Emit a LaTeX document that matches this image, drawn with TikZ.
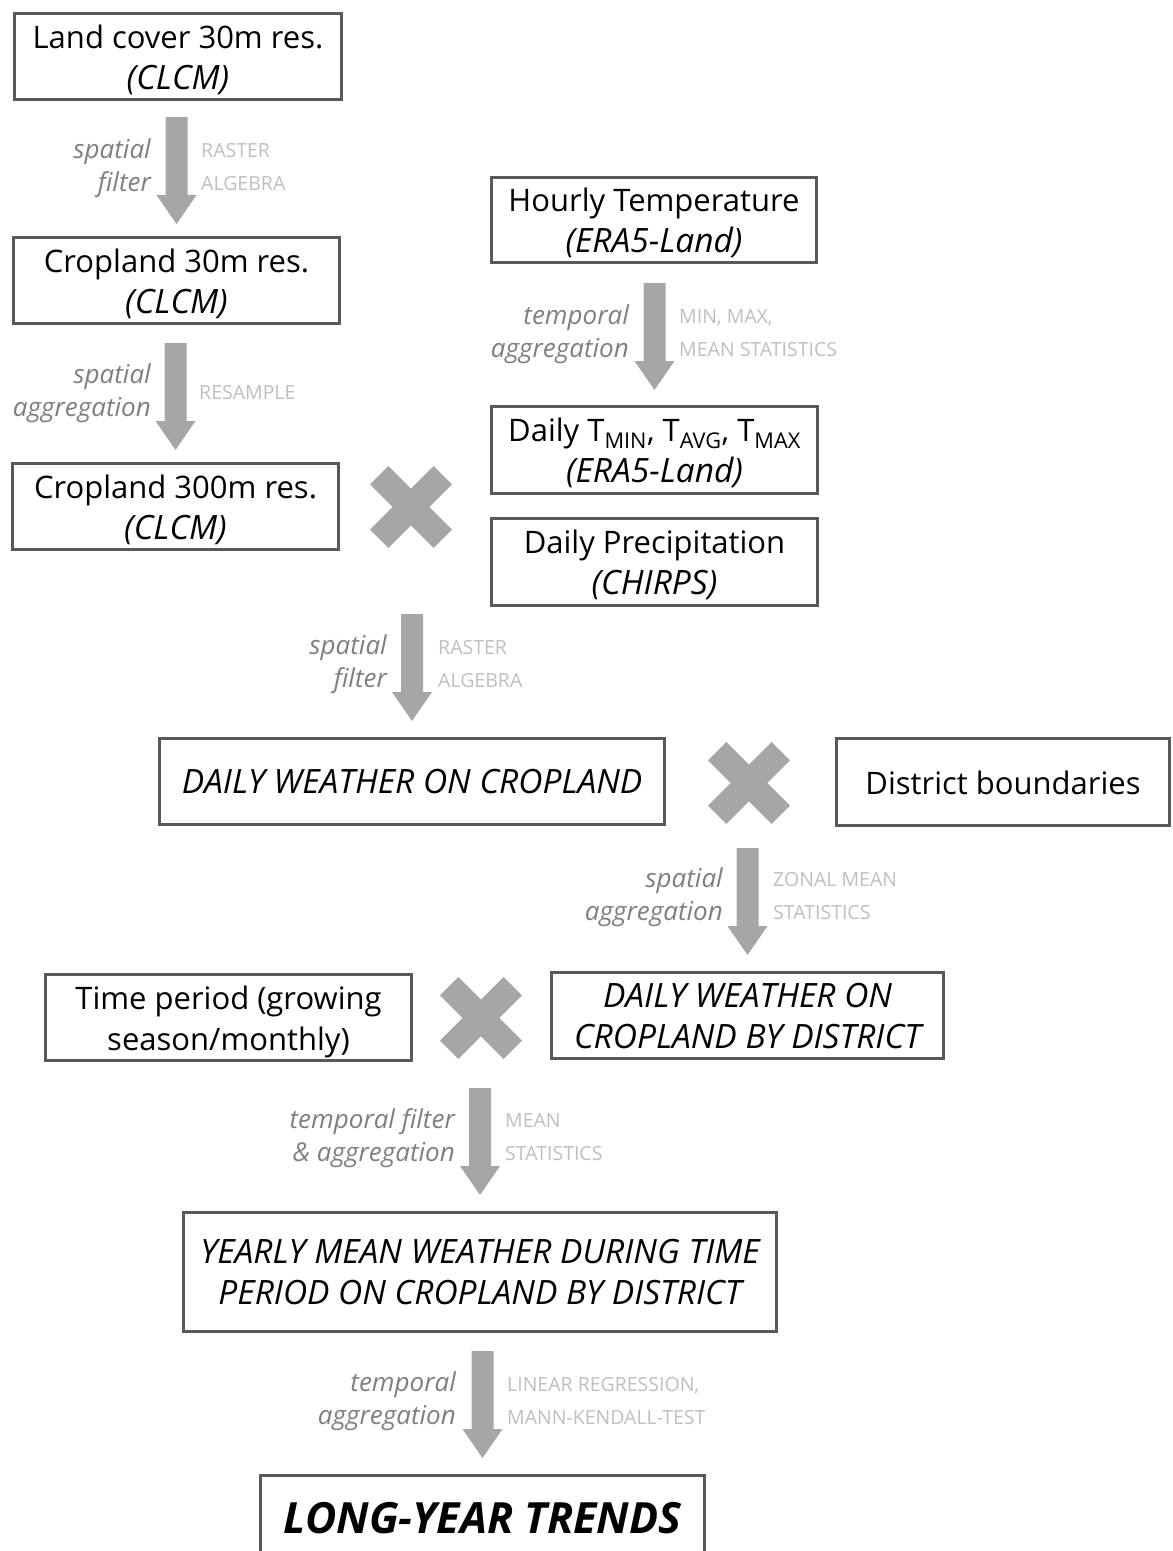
\documentclass[tikz,border=0pt]{standalone}
\usepackage{fontspec}
\setmainfont{Open Sans}
\usetikzlibrary{calc}
\definecolor{boxline}{HTML}{595959}
\definecolor{flowgray}{HTML}{A6A6A6}
\definecolor{labgray}{HTML}{7F7F7F}
\definecolor{capgray}{HTML}{BFBFBF}
\newcommand\itl[1]{{\fontsize{33.5}{41}\selectfont\itshape #1}}
\newcommand\tstrut{\rule{0pt}{34pt}}
\newcommand\bstrut{\rule[-10pt]{0pt}{10pt}}
% arrow from #1 (source) to #2 (target), tip #3 px above target's top
\newcommand\flowarrow[3]{%
  \fill[flowgray] let \p1=($(#2.north)+(0,-#3)$) in
    (\x1-11pt,\y1+107pt) -- (\x1+11pt,\y1+107pt) -- (\x1+11pt,\y1+29pt) --
    (\x1+20pt,\y1+29pt) -- (\x1,\y1) -- (\x1-20pt,\y1+29pt) --
    (\x1-11pt,\y1+29pt) -- cycle;}
\newcommand\crossmark[1]{%
  \begin{scope}[shift={(#1)}]
    \fill[flowgray,rotate=45] (-45,-13) rectangle (45,13);
    \fill[flowgray,rotate=-45] (-45,-13) rectangle (45,13);
  \end{scope}}
\begin{document}
\begin{tikzpicture}[x=1pt,y=-1pt,
  box/.style={draw=boxline, line width=3pt, fill=white, inner sep=0pt, align=center,
    font=\fontsize{31}{41}\selectfont},
  oplab/.style={anchor=east, align=right, text=labgray, inner sep=0pt,
    font=\fontsize{26}{33}\selectfont\itshape},
  caplab/.style={anchor=west, align=left, text=capgray, inner sep=0pt,
    font=\fontsize{19.5}{33}\selectfont},
]
\useasboundingbox (0,0) rectangle (1173,1551);

% boxes
\node[box, minimum width=327, minimum height=86] (land) at (178,56.5) {\tstrut Land cover 30m res.\\\itl{(CLCM)}\bstrut};
\node[box, minimum width=326, minimum height=86] (crop30) at (176.5,280.5) {\tstrut Cropland 30m res.\\\itl{(CLCM)}\bstrut};
\node[box, minimum width=326, minimum height=86] (crop300) at (175.5,506.5) {\tstrut Cropland 300m res.\\\itl{(CLCM)}\bstrut};
\node[box, minimum width=325, minimum height=85] (hourly) at (654,220) {\tstrut Hourly Temperature\\\itl{(ERA5-Land)}\bstrut};
\node[box, minimum width=326, minimum height=87] (dailyt) at (654.5,450) {\tstrut Daily T\textsubscript{MIN}, T\textsubscript{AVG}, T\textsubscript{MAX}\\\itl{(ERA5-Land)}\bstrut};
\node[box, minimum width=326, minimum height=87] (precip) at (654.5,562) {\tstrut Daily Precipitation\\\itl{(CHIRPS)}\bstrut};
\node[box, minimum width=505, minimum height=86] (dwc) at (412,781.5) {\tstrut\itl{DAILY WEATHER ON CROPLAND}\bstrut};
\node[box, minimum width=333, minimum height=87] (district) at (1003,782) {\tstrut District boundaries\bstrut};
\node[box, minimum width=366, minimum height=86] (period) at (228.5,1017.5) {\tstrut Time period (growing\\season/monthly)\bstrut};
\node[box, minimum width=392, minimum height=86] (dwcbd) at (747.5,1015.5) {\tstrut\itl{DAILY WEATHER ON}\\\itl{CROPLAND BY DISTRICT}\bstrut};
\node[box, minimum width=593, minimum height=119] (yearly) at (480,1272) {\tstrut\itl{YEARLY MEAN WEATHER DURING TIME}\\\itl{PERIOD ON CROPLAND BY DISTRICT}\bstrut};
\node[box, minimum width=444, minimum height=86, font=\fontsize{43}{41}\selectfont\bfseries\itshape] (long) at (482.5,1518.5) {LONG-YEAR TRENDS};

% crosses
\coordinate (c1) at (411,507);
\coordinate (c2) at (749,783);
\coordinate (c3) at (481,1018);
\crossmark{c1}
\crossmark{c2}
\crossmark{c3}

% arrows
\flowarrow{land}{crop30}{12}
\flowarrow{crop30}{crop300}{12}
\flowarrow{hourly}{dailyt}{15}
\flowarrow{c1}{dwc}{16}
\flowarrow{c2}{dwcbd}{16}
\flowarrow{c3}{yearly}{16}
\flowarrow{yearly}{long}{16}

% arrow labels
\node[oplab] (l1a) at (151,168) {spatial\\filter};
\node[caplab] (l1b) at (201,167) {RASTER\\ALGEBRA};
\node[oplab] (l2a) at (151,393) {spatial\\aggregation};
\node[caplab] (l2b) at (199,393) {RESAMPLE};
\node[oplab] (l3a) at (629,334) {temporal\\aggregation};
\node[caplab] (l3b) at (679,333) {MIN, MAX,\\MEAN STATISTICS};
\node[oplab] (l4a) at (387,664) {spatial\\filter};
\node[caplab] (l4b) at (438,664) {RASTER\\ALGEBRA};
\node[oplab] (l5a) at (723,897) {spatial\\aggregation};
\node[caplab] (l5b) at (773,896) {ZONAL MEAN\\STATISTICS};
\node[oplab] (l6a) at (455,1138) {temporal filter\\\& aggregation};
\node[caplab] (l6b) at (505,1137) {MEAN\\STATISTICS};
\node[oplab] (l7a) at (456,1401) {temporal\\aggregation};
\node[caplab] (l7b) at (507,1401) {LINEAR REGRESSION,\\MANN-KENDALL-TEST};
\end{tikzpicture}
\end{document}
